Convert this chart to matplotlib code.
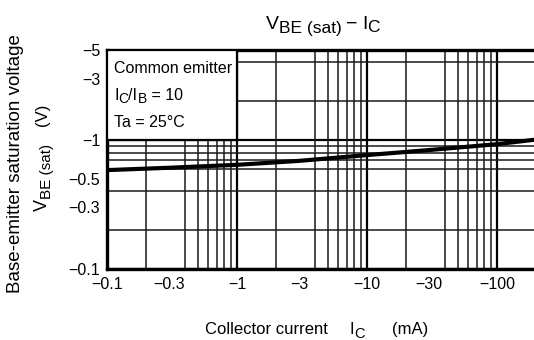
import numpy as np
import matplotlib
matplotlib.use('Agg')
import matplotlib.pyplot as plt
from matplotlib.patches import Rectangle
from matplotlib.ticker import FixedLocator, FixedFormatter, LogLocator, NullFormatter

plt.rcParams['font.family'] = ['Liberation Sans', 'DejaVu Sans']

# collector current (mA, magnitude) and V_BE(sat) (V, magnitude)
ic = [0.1, 0.3, 1, 3, 10, 30, 100, 200]
vbe = [0.585, 0.61, 0.643, 0.69, 0.765, 0.837, 0.93, 1.01]

x_ticks = [0.1, 0.3, 1, 3, 10, 30, 100]
x_labels = ['\u22120.1', '\u22120.3', '\u22121', '\u22123', '\u221210', '\u221230', '\u2212100']
y_ticks = [0.1, 0.3, 0.5, 1, 3, 5]
y_labels = ['\u22120.1', '\u22120.3', '\u22120.5', '\u22121', '\u22123', '\u22125']

W, H = 534, 340
fig = plt.figure(figsize=(W / 100, H / 100), dpi=100)
renderer = fig.canvas.get_renderer()


def rich(x, y, parts, rotation=0, ha='center'):
    # parts: (text, fontsize, baseline drop px, gap before px); x, y in px from top-left
    widths = []
    for s, fs, dy, gap in parts:
        t = fig.text(0, 0, s, fontsize=fs)
        widths.append(t.get_window_extent(renderer).width)
        t.remove()
    total = sum(widths) + sum(p[3] for p in parts)
    pos = -total / 2 if ha == 'center' else 0
    for (s, fs, dy, gap), w in zip(parts, widths):
        pos += gap
        if rotation == 0:
            px, py = x + pos, H - (y + dy)
        else:
            px, py = x + dy, H - y + pos
        fig.text(px / W, py / H, s, fontsize=fs, rotation=rotation,
                 rotation_mode='anchor', ha='left', va='baseline', zorder=6)
        pos += w


# plot area runs past the right edge of the picture (cropped)
ax = fig.add_axes([107 / W, (H - 269) / H, 520 / W, 219 / H])
ax.set_xscale('log')
ax.set_yscale('log')
ax.set_xlim(0.1, 1000)
ax.set_ylim(0.1, 5)

ax.xaxis.set_major_locator(FixedLocator(x_ticks))
ax.xaxis.set_major_formatter(FixedFormatter(x_labels))
ax.yaxis.set_major_locator(FixedLocator(y_ticks))
ax.yaxis.set_major_formatter(FixedFormatter(y_labels))
ax.xaxis.set_minor_locator(LogLocator(base=10, subs=np.arange(1, 10)))
ax.yaxis.set_minor_locator(LogLocator(base=10, subs=np.arange(1, 10)))
ax.xaxis.set_minor_formatter(NullFormatter())
ax.yaxis.set_minor_formatter(NullFormatter())
ax.tick_params(which='both', length=0, labelsize=11.5, colors='black')
ax.tick_params(axis='x', pad=6)
ax.tick_params(axis='y', pad=5)

ax.grid(True, which='minor', color='#1a1a1a', linewidth=1.1)
# heavier lines at each decade
for d in [0.1, 1, 10, 100]:
    ax.axvline(d, color='black', linewidth=1.6, zorder=1)
for d in [0.1, 1]:
    ax.axhline(d, color='black', linewidth=1.6, zorder=1)

for s in ax.spines.values():
    s.set_linewidth(2.4)
ax.spines['right'].set_visible(False)

ax.add_patch(Rectangle((0.1, 1), 0.9, 4, facecolor='white', edgecolor='black',
                       linewidth=1.6, zorder=3))

ax.plot(ic, vbe, color='black', linewidth=3.0, zorder=5)

# condition text inside the box
rich(114, 73, [('Common emitter', 11.5, 0, 0)], ha='left')
rich(114, 100, [('I', 11.5, 0, 0), ('C', 10, 3, 0), ('/I', 11.5, 0, 0),
                ('B', 10, 3, 0), (' = 10', 11.5, 0, 0)], ha='left')
rich(114, 127, [('Ta = 25\u00b0C', 11.5, 0, 0)], ha='left')

# title
rich(323, 29, [('V', 14, 0, 0), ('BE (sat)', 12.5, 3.5, 0), ('\u2212', 14, 0, 4),
               ('I', 14, 0, 5), ('C', 12.5, 3.5, 0)])

# axis titles
rich(20, 164, [('Base-emitter saturation voltage', 13.5, 0, 0)], rotation=90)
rich(47, 157, [('V', 13, 0, 0), ('BE (sat)', 11, 4, 0), ('(V)', 12, 0, 18)], rotation=90)
rich(205, 334, [('Collector current', 12, 0, 0), ('I', 12, 0, 22), ('C', 10.5, 4, 0),
                ('(mA)', 12, 0, 27)], ha='left')

fig.savefig('out.png', dpi=100)
